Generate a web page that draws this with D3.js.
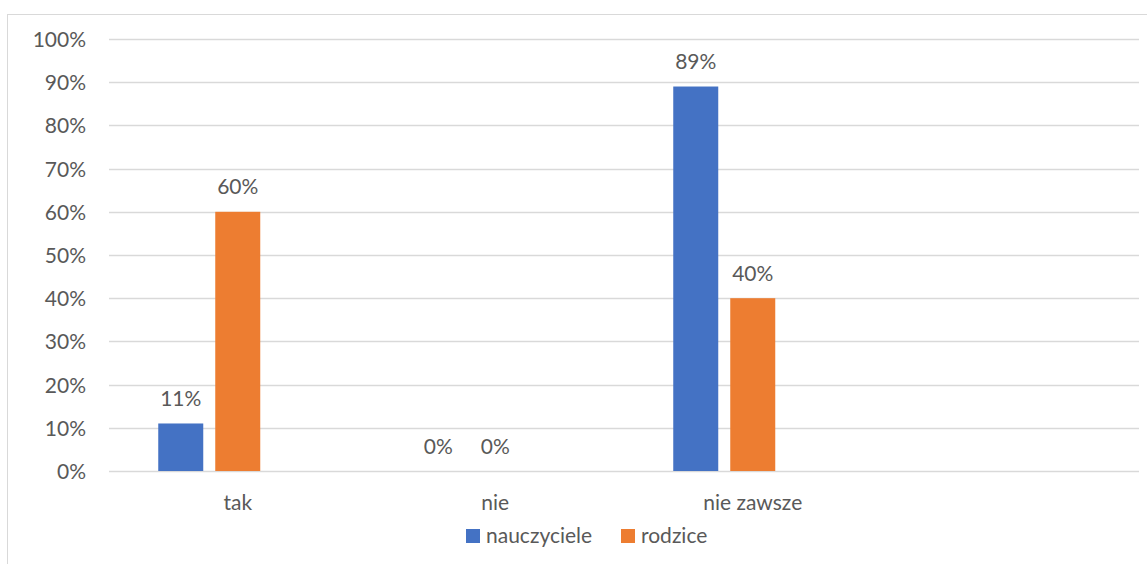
<!DOCTYPE html>
<meta charset="utf-8">
<style>
  body { margin: 0; background: #fff; }
  text { font-family: Lato, "Open Sans", sans-serif; fill: #595959; }
  .grid line { stroke: #d9d9d9; stroke-width: 1.3px; }
</style>
<body>
<script src="https://d3js.org/d3.v7.min.js"></script>
<script>

var categories = ["tak", "nie", "nie zawsze", ""];
var series = ["nauczyciele", "rodzice"];
var nauczyciele = [0.11, 0, 0.89, null];
var rodzice = [0.60, 0, 0.40, null];
var yTicks = [0, 0.1, 0.2, 0.3, 0.4, 0.5, 0.6, 0.7, 0.8, 0.9, 1];

var width = 1147,
    height = 564,
    fontSize = "21px",
    colors = ["#4472c4", "#ed7d31"];

var svg = d3.select("body").append("svg")
    .attr("width", width)
    .attr("height", height);

// chart frame, runs off the right/bottom edge
svg.append("rect")
    .attr("x", 7.5).attr("y", 14.5)
    .attr("width", 1160).attr("height", 570)
    .attr("fill", "none")
    .attr("stroke", "#d9d9d9");

var x0 = d3.scaleBand()
    .domain(categories)
    .range([109, 1139]);

// three slots per category, the third one stays empty
var x1 = d3.scaleBand()
    .domain([0, 1, 2])
    .range([49.25, 208.25])
    .paddingInner(12 / 57);

var y = d3.scaleLinear()
    .domain([0, 1])
    .range([471, 39]);

var fmt = d3.format(".0%");

var grid = svg.append("g").attr("class", "grid");
grid.selectAll("line")
    .data(yTicks)
  .enter().append("line")
    .attr("x1", 109).attr("x2", 1139)
    .attr("y1", function(d) { return Math.round(y(d)) + 0.5; })
    .attr("y2", function(d) { return Math.round(y(d)) + 0.5; });

var yAxis = svg.append("g")
    .attr("transform", "translate(86,0)")
    .call(d3.axisLeft(y).tickValues(yTicks).tickFormat(fmt).tickSize(0).tickPadding(0));
yAxis.select(".domain").remove();
yAxis.selectAll("text")
    .attr("font-size", fontSize)
    .attr("font-family", null)
    .attr("fill", null)
    .attr("dy", "0.36em");

var xAxis = svg.append("g")
    .attr("transform", "translate(0,510)")
    .call(d3.axisBottom(x0).tickSize(0).tickPadding(0));
xAxis.select(".domain").remove();
xAxis.selectAll("text")
    .attr("font-size", fontSize)
    .attr("font-family", null)
    .attr("fill", null)
    .attr("dy", 0);

var values = [nauczyciele, rodzice];

series.forEach(function(name, s) {
  var g = svg.append("g");
  var data = categories.map(function(c, i) { return { cat: c, v: values[s][i] }; })
      .filter(function(d) { return d.v !== null; });

  g.selectAll("rect")
      .data(data)
    .enter().append("rect")
      .attr("x", function(d) { return x0(d.cat) + x1(s); })
      .attr("width", x1.bandwidth())
      .attr("y", function(d) { return y(d.v); })
      .attr("height", function(d) { return y(0) - y(d.v); })
      .attr("fill", colors[s]);

  g.selectAll("text")
      .data(data)
    .enter().append("text")
      .attr("x", function(d) { return x0(d.cat) + x1(s) + x1.bandwidth() / 2; })
      .attr("y", function(d) { return y(d.v) - 17.5; })
      .attr("text-anchor", "middle")
      .attr("font-size", fontSize)
      .text(function(d) { return fmt(d.v); });
});

// legend
var legendX = [466, 621];
var legend = svg.append("g");
series.forEach(function(name, s) {
  legend.append("rect")
      .attr("x", legendX[s]).attr("y", 529)
      .attr("width", 14).attr("height", 14)
      .attr("fill", colors[s]);
  legend.append("text")
      .attr("x", legendX[s] + 20).attr("y", 542.5)
      .attr("font-size", fontSize)
      .text(name);
});
</script>
</body>
